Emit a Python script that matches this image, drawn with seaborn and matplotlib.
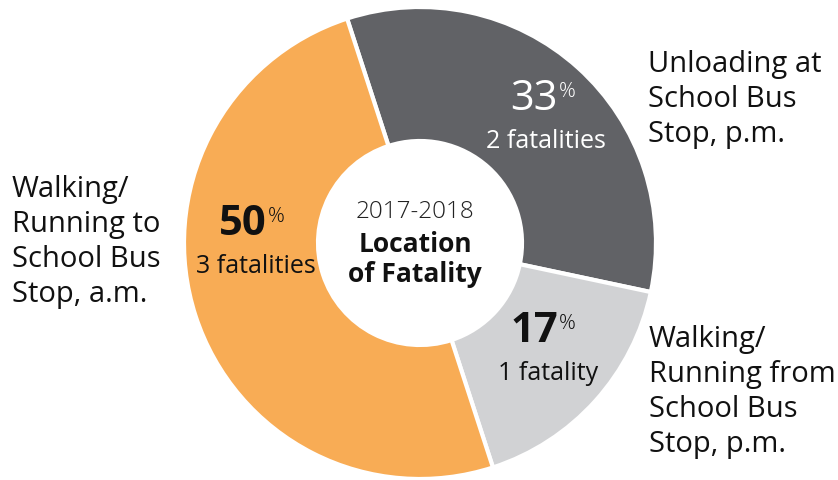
import matplotlib
matplotlib.use('Agg')
import matplotlib.pyplot as plt
import seaborn as sns

# ---------------- DATOS ----------------
segmentos = ['Unloading at\nSchool Bus\nStop, p.m.',
             'Walking/\nRunning from\nSchool Bus\nStop, p.m.',
             'Walking/\nRunning to\nSchool Bus\nStop, a.m.']
fatalidades = [2, 1, 3]
textos_fatalidad = ['2 fatalities', '1 fatality', '3 fatalities']
colores = ['#616266', '#D1D2D4', '#F8AC55']
color_texto_num = ['white', '#111111', '#111111']
titulo_centro = ['2017-2018', 'Location', 'of Fatality']

# ---------------- LAYOUT (pixeles, y desde arriba) ----------------
ANCHO, ALTO = 838, 480
# (x borde derecho numero, baseline numero, x centro texto fatalidades, baseline fatalidades)
pos_numeros = [(558, 110, 546, 148), (558, 342, 548, 380), (267, 235, 256, 273)]
# (x izquierda, baseline primera linea) de cada etiqueta externa
pos_etiquetas = [(648, 72), (649, 347), (12, 197)]
INTERLINEA = 35


def py(y):
    return ALTO - y


def setStyle_design():
    sns.set_theme(style='white')
    plt.rcParams['font.family'] = ['Open Sans', 'DejaVu Sans']


def graficar_dona():
    fig = plt.figure(figsize=(ANCHO / 100, ALTO / 100), dpi=100)
    ax = fig.add_axes([0, 0, 1, 1])

    ax.pie(fatalidades, colors=colores, startangle=108, counterclock=False,
           radius=236, center=(420, py(243)),
           wedgeprops=dict(width=134, edgecolor='white', linewidth=3))
    ax.set_xlim(0, ANCHO)
    ax.set_ylim(0, ALTO)
    ax.axis('off')

    total = sum(fatalidades)
    for i, f in enumerate(fatalidades):
        pct = round(100 * f / total)
        xr, yb, xc, yb2 = pos_numeros[i]
        peso = 'normal' if i == 0 else 'bold'
        ax.text(xr, py(yb), f'{pct}', ha='right', va='baseline',
                fontsize=30, fontweight=peso, color=color_texto_num[i])
        ax.text(xr + 1, py(yb - 13), '%', ha='left', va='baseline',
                fontsize=15, fontweight='light', color=color_texto_num[i])
        ax.text(xc, py(yb2), textos_fatalidad[i], ha='center', va='baseline',
                fontsize=18, color=color_texto_num[i])

        # etiquetas externas, linea por linea
        x0, y0 = pos_etiquetas[i]
        for j, linea in enumerate(segmentos[i].split('\n')):
            ax.text(x0, py(y0 + j * INTERLINEA), linea, ha='left', va='baseline',
                    fontsize=21, color='#111111')

    # texto central
    ax.text(415, py(218), titulo_centro[0], ha='center', va='baseline',
            fontsize=17.5, fontweight='light', color='#222222')
    ax.text(415, py(252), titulo_centro[1], ha='center', va='baseline',
            fontsize=19, fontweight='bold', color='#111111')
    ax.text(415, py(282), titulo_centro[2], ha='center', va='baseline',
            fontsize=19, fontweight='bold', color='#111111')

    fig.savefig('out.png', dpi=100)


def main():
    setStyle_design()
    graficar_dona()


if __name__ == '__main__':
    main()
